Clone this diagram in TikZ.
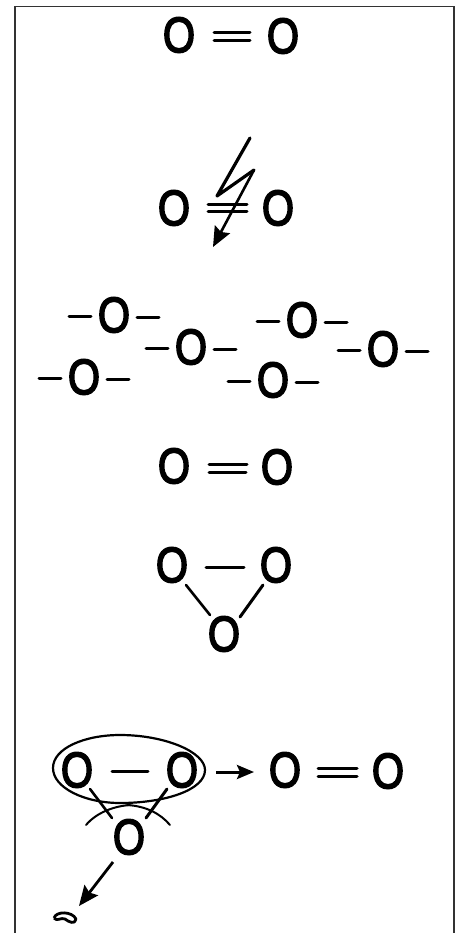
\documentclass[tikz,border=0pt]{standalone}
\usepackage{fontspec}
\setmainfont[BoldFont={Liberation Sans},BoldFeatures={FakeBold=3.5}]{Liberation Sans}
\usetikzlibrary{arrows.meta}
\tikzset{
  atom/.style={font=\fontsize{47}{47}\selectfont\bfseries, inner sep=0pt, xscale=0.88, yscale=1.06},
  bond/.style={line width=3pt, line cap=round, black},
  thin bond/.style={line width=2.6pt, line cap=round, black},
  pointer/.style={line width=3pt, black, -{Stealth[length=17pt,width=14pt,inset=3pt]}},
  big pointer/.style={line width=2.8pt, black, -{Stealth[length=20pt,width=17pt,inset=3pt]}},
}
\begin{document}
\begin{tikzpicture}[x=1pt,y=-1pt]
\useasboundingbox (0,0) rectangle (461,933);
\draw[line width=1.8pt,black!80] (15,933) -- (15,6.5) -- (454,6.5) -- (454,933);
% top
\node[atom] (a1) at (179,35) {O};
\node[atom] (a2) at (283,36) {O};
\draw[bond] (214,33) -- (250,33);
\draw[bond] (214,41) -- (250,41);
% broken
\node[atom] (b1) at (174,208) {O};
\node[atom] (b2) at (278,208) {O};
\draw[bond] (208,205) -- (247,205);
\draw[bond] (208,212) -- (247,212);
\coordinate (z1) at (250,138);
\coordinate (z2) at (217,196);
\coordinate (z3) at (254,170);
\coordinate (z4) at (213,247);
\draw[line width=3.2pt,line join=round,line cap=round] (z1) -- (z2) -- (z3);
\draw[big pointer,line width=2.6pt] (z3) -- (z4);
% chain
\foreach \n/\x/\y in {c1/114/315,c2/191/347,c3/302/320,c4/383/349,c5/84/377,c6/273/380}{
  \node[atom] (\n) at (\x,\y) {O};
  \draw[bond] (\x-45,\y+1) -- (\x-23,\y+1);
  \draw[bond] (\x+23,\y+2) -- (\x+45,\y+2);
}
% middle
\node[atom] (d1) at (174,466) {O};
\node[atom] (d2) at (277,467) {O};
\draw[bond] (209,464) -- (247,464);
\draw[bond] (209,472) -- (246,472);
% triangle
\node[atom] (e1) at (172,565) {O};
\node[atom] (e2) at (276,565) {O};
\node[atom] (e3) at (224,634) {O};
\draw[bond] (206,567) -- (244,567);
\draw[thin bond] (186,585) -- (210,615);
\draw[bond] (263,585) -- (240,617);
% bottom
\node[atom] (f1) at (77,770) {O};
\node[atom] (f2) at (182,770) {O};
\node[atom] (f3) at (129,837) {O};
\node[atom] (g1) at (285,770) {O};
\node[atom] (g2) at (388,771) {O};
\draw[bond] (112,771) -- (148,771);
\draw[bond] (318,768) -- (357,768);
\draw[bond] (318,776) -- (357,776);
\draw[thin bond] (90,789) -- (112,818);
\draw[bond] (167,789) -- (146,818);
\draw[line width=2.2pt] (120,735) .. controls (165,735) and (205,752) .. (205,770) .. controls (205,790) and (165,803) .. (120,803) .. controls (85,803) and (53,788) .. (53,768) .. controls (53,748) and (85,735) .. (120,735);
\draw[line width=2pt,line cap=round] (86,825) .. controls (97,812) and (115,806) .. (130,805);
\draw[line width=2pt,line cap=round] (170,825) .. controls (160,813) and (145,806) .. (127,805);
\draw[pointer] (216,772) -- (254,772);
\draw[big pointer] (113,862) -- (79,906);
\draw[line width=2.8pt,line join=round] (54,918) .. controls (56,911) and (72,911) .. (76,919) .. controls (75,925) and (69,922) .. (65,919) .. controls (61,917) and (57,922) .. (54,918);
\end{tikzpicture}
\end{document}
